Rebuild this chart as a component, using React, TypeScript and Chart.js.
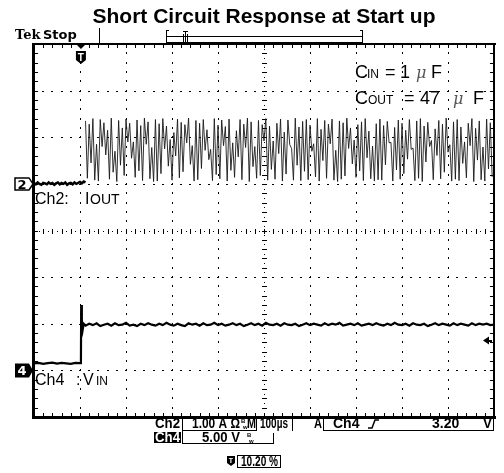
import React, { useEffect, useRef } from "react";
import { Chart, registerables } from "chart.js";

Chart.register(...registerables);

// ---------------- scope settings ----------------
const timePerDivUs = 100; // M 100µs
const horizontalDivs = 10;
const verticalDivs = 8;
const ch2AmpsPerDiv = 1.0;
const ch4VoltsPerDiv = 5.0;
const ch2GroundDiv = 1;
const ch4GroundDiv = -3;
const triggerPercent = 10.2;
const triggerLevelV = 3.2;

// ---------------- texts ----------------
const titleText = "Short Circuit Response at Start up";
const statusCh2 = "1.00 A \u03A9";
const statusTime = "100\u00B5s";
const statusTrigLevel = "3.20";
const statusCh4 = "5.00 V";
const statusTrigPos = "10.20 %";

// ---------------- Ch2 : IOUT (A) ----------------
// baseline before switching starts, one sample every 4 µs from 0 µs
const ch2BaselineStepUs = 4;
const ch2BaselineAmps = [
  0.02, -0.01, 0.03, 0.0, -0.02, 0.02, 0.01, -0.01, 0.03, 0.0,
  0.02, -0.02, 0.01, 0.03, -0.01, 0.02, 0.0, 0.03, -0.02, 0.01,
  0.02, -0.01, 0.03, 0.0, 0.02, 0.04, 0.01, 0.05, 0.03,
];
// hiccup bursts: one peak / valley pair every 8 µs from 112 µs
const ch2BurstStartUs = 112;
const ch2BurstPeriodUs = 8;
const ch2PeakAmps = [
  1.35, 1.28, 1.40, 0.85, 1.38, 1.31, 1.15, 1.41, 0.70, 1.36, 1.20, 1.39, 1.30, 0.90, 1.37, 1.25, 1.41, 1.33, 0.78, 1.38,
  1.29, 1.40, 1.24, 0.95, 1.10, 1.39, 1.32, 1.27, 1.41, 0.82, 1.36, 1.30, 1.38, 1.16, 0.74, 1.40, 1.26, 1.37, 1.23, 1.39,
  0.88, 1.14, 1.38, 1.28, 1.41, 1.33, 0.80, 1.36, 1.27, 1.40, 1.24, 0.92, 1.30, 1.39, 1.11, 1.37, 0.76, 1.41, 1.22, 1.34,
  1.38, 1.26, 0.86, 1.40, 1.17, 1.36, 1.28, 1.39, 0.72, 1.35, 1.31, 1.41, 1.20, 0.94, 1.27, 1.33, 1.40, 1.13, 0.81, 1.29,
  1.39, 1.25, 1.34, 0.89, 1.21, 1.37, 1.30, 1.15, 1.38, 0.77, 1.35, 1.40, 1.24, 1.32, 0.93, 1.18, 1.36, 1.28, 1.41, 0.84,
  1.33, 1.38, 1.22, 0.90, 1.30, 1.40, 1.19, 1.35, 0.79, 1.39, 1.31,
];
const ch2ValleyAmps = [
  0.12, 0.45, 0.08, 0.06, 0.80, 0.62, 0.10, 0.25, 0.05, 0.40, 0.18, 0.90, 0.55, 0.14, 0.28, 0.07, 0.85, 0.11, 0.05, 0.06,
  0.22, 0.75, 0.38, 0.08, 0.60, 0.13, 0.26, 0.88, 0.42, 0.06, 0.09, 0.33, 0.72, 0.52, 0.07, 0.20, 0.11, 0.82, 0.06, 0.29,
  0.14, 0.58, 0.09, 0.78, 0.05, 0.37, 0.12, 0.18, 0.92, 0.08, 0.31, 0.10, 0.65, 0.06, 0.21, 0.84, 0.08, 0.40, 0.07, 0.27,
  0.09, 0.70, 0.15, 0.06, 0.50, 0.12, 0.86, 0.08, 0.05, 0.10, 0.17, 0.76, 0.43, 0.14, 0.28, 0.07, 0.56, 0.11, 0.06, 0.09,
  0.08, 0.41, 0.88, 0.06, 0.30, 0.10, 0.22, 0.53, 0.74, 0.07, 0.12, 0.05, 0.47, 0.80, 0.09, 0.61, 0.11, 0.25, 0.68, 0.06,
  0.10, 0.07, 0.44, 0.13, 0.82, 0.05, 0.51, 0.09, 0.06, 0.32, 0.15,
];

// ---------------- Ch4 : VIN (V) ----------------
const ch4PreStepUs = 10; // samples from 0 µs
const ch4PreVolts = [0.75, 0.8, 0.7, 0.78, 0.82, 0.72, 0.8, 0.76, 0.7, 0.8, 0.78];
const ch4EdgeUs = [102, 102.6, 104, 106, 108];
const ch4EdgeVolts = [0.8, 7.0, 5.4, 4.4, 5.0];
const ch4SettledStartUs = 112;
const ch4SettledStepUs = 8;
const ch4SettledVolts = [
  4.8, 5.0, 4.85, 5.05, 4.75, 4.9, 5.0, 4.8, 5.05, 4.85, 4.9, 5.1, 4.8, 4.9, 4.75, 5.0, 4.85, 5.05, 4.9, 4.8,
  5.0, 4.85, 5.1, 4.9, 4.8, 5.0, 4.85, 4.75, 5.05, 4.9, 5.0, 4.8, 5.05, 4.85, 4.9, 5.1, 4.85, 5.0, 4.8, 4.9,
  5.05, 4.85, 5.0, 4.75, 4.9, 5.05, 4.85, 5.0, 4.8, 5.1, 4.9, 4.85, 5.0, 4.8, 5.05, 4.9, 4.85, 5.0, 4.75, 4.9,
  5.05, 4.85, 5.0, 4.9, 4.8, 5.05, 4.85, 5.0, 4.9, 5.1, 4.8, 4.9, 5.0, 4.85, 5.05, 4.8, 4.9, 5.0, 4.85, 5.05,
  4.9, 4.8, 5.0, 4.85, 5.1, 4.9, 4.85, 5.0, 4.8, 5.05, 4.9, 4.85, 5.0, 4.75, 4.9, 5.05, 4.85, 5.0, 4.9, 4.8,
  5.05, 4.85, 5.0, 4.9, 4.8, 5.05, 4.85, 5.0, 4.9, 5.0, 4.85, 4.9,
];

// ---------------- build datasets ----------------
const ch2ToDiv = (a: number) => ch2GroundDiv + a / ch2AmpsPerDiv;
const ch4ToDiv = (v: number) => ch4GroundDiv + v / ch4VoltsPerDiv;

const ch2BaselinePts = ch2BaselineAmps.map((a, i) => ({ x: i * ch2BaselineStepUs, y: ch2ToDiv(a) }));
const ch2BurstPts: { x: number; y: number }[] = [];
ch2PeakAmps.forEach((p, i) => {
  const t = ch2BurstStartUs + i * ch2BurstPeriodUs;
  ch2BurstPts.push({ x: t, y: ch2ToDiv(p) });
  ch2BurstPts.push({ x: t + ch2BurstPeriodUs / 2, y: ch2ToDiv(ch2ValleyAmps[i]) });
});
const ch4Pts = [
  ...ch4PreVolts.map((v, i) => ({ x: i * ch4PreStepUs, y: ch4ToDiv(v) })),
  ...ch4EdgeVolts.map((v, i) => ({ x: ch4EdgeUs[i], y: ch4ToDiv(v) })),
  ...ch4SettledVolts.map((v, i) => ({ x: ch4SettledStartUs + i * ch4SettledStepUs, y: ch4ToDiv(v) })),
];

function txt(
  ctx: CanvasRenderingContext2D,
  s: string,
  x: number,
  y: number,
  font: string,
  color = "#000",
  align: CanvasTextAlign = "left",
  maxW?: number
) {
  ctx.font = font;
  ctx.fillStyle = color;
  ctx.textAlign = align;
  ctx.textBaseline = "alphabetic";
  if (maxW) ctx.fillText(s, x, y, maxW);
  else ctx.fillText(s, x, y);
}

const gridPlugin = {
  id: "scopeGrid",
  beforeDatasetsDraw(chart: any) {
    const ctx: CanvasRenderingContext2D = chart.ctx;
    const { left, right, top, bottom } = chart.chartArea;
    const dx = (right - left) / horizontalDivs;
    const dy = (bottom - top) / verticalDivs;
    ctx.save();
    ctx.fillStyle = "#000";
    for (let k = 1; k < horizontalDivs; k++) {
      const x = Math.round(left + k * dx);
      if (k === horizontalDivs / 2) continue;
      for (let j = 1; j < verticalDivs * 5; j++) {
        ctx.fillRect(x, Math.round(top + (j * dy) / 5) - 1, 1, 2);
      }
    }
    for (let k = 1; k < verticalDivs; k++) {
      const y = Math.round(top + k * dy);
      if (k === verticalDivs / 2) continue;
      for (let i = 1; i < horizontalDivs * 5; i++) {
        ctx.fillRect(Math.round(left + (i * dx) / 5) - 1, y, 2, 1);
      }
    }
    const cx = Math.round(left + (horizontalDivs / 2) * dx);
    const cy = Math.round(top + (verticalDivs / 2) * dy);
    for (let j = 1; j < verticalDivs * 5; j++) {
      const y = Math.round(top + (j * dy) / 5);
      ctx.fillRect(cx - 2, y, 5, 1);
      ctx.fillRect(cx, Math.round(top + ((j - 0.5) * dy) / 5), 1, 1);
    }
    for (let i = 1; i < horizontalDivs * 5; i++) {
      const x = Math.round(left + (i * dx) / 5);
      ctx.fillRect(x, cy - 2, 1, 5);
      ctx.fillRect(Math.round(left + ((i - 0.5) * dx) / 5), cy, 1, 1);
    }
    for (let i = 1; i < horizontalDivs * 5; i++) {
      const x = Math.round(left + (i * dx) / 5);
      ctx.fillRect(x, top + 1, 1, 3);
      ctx.fillRect(x, bottom - 4, 1, 3);
    }
    for (let j = 1; j < verticalDivs * 5; j++) {
      const y = Math.round(top + (j * dy) / 5);
      ctx.fillRect(left + 1, y, 3, 1);
      ctx.fillRect(right - 4, y, 3, 1);
    }
    ctx.restore();
  },
};

const overlayPlugin = {
  id: "scopeOverlay",
  afterDraw(chart: any) {
    const ctx: CanvasRenderingContext2D = chart.ctx;
    const { left, right, top, bottom } = chart.chartArea;
    const yS = chart.scales.y;
    ctx.save();
    ctx.fillStyle = "#000";
    ctx.strokeStyle = "#000";
    // frame
    ctx.fillRect(left - 2, top - 1, right - left + 4, 2);
    ctx.fillRect(left - 2, bottom - 1, right - left + 4, 3);
    ctx.fillRect(left - 2, top - 1, 3, bottom - top + 3);
    ctx.fillRect(right - 1, top - 1, 2, bottom - top + 3);

    // title
    txt(ctx, titleText, (left + right) / 2, 23, 'bold 21px "Liberation Sans", Arial, sans-serif', "#000", "center");

    // Tek Stop
    txt(ctx, "Tek", 15, 39, 'bold 13px "DejaVu Serif", serif');
    txt(ctx, "Stop", 43, 39, 'bold 13px "DejaVu Sans", sans-serif');
    ctx.fillRect(99, 28, 1, top - 28);

    // record bar
    ctx.fillRect(166, 30, 1, top - 30);
    ctx.fillRect(166, 30, 3, 1);
    ctx.fillRect(166, top - 2, 3, 1);
    ctx.fillRect(362, 30, 1, top - 30);
    ctx.fillRect(360, 30, 3, 1);
    ctx.fillRect(166, 36, 197, 1);
    ctx.fillRect(166, top - 2, 197, 1);
    ctx.fillRect(183, 31, 5, 1);
    ctx.fillRect(185, 31, 1, 12);
    ctx.fillRect(183, 34, 1, 9);
    ctx.fillRect(187, 34, 1, 9);

    // trigger position marker
    const tx = left + (triggerPercent / 100) * (right - left);
    ctx.beginPath();
    ctx.moveTo(tx - 4, top + 1);
    ctx.lineTo(tx + 4, top + 1);
    ctx.lineTo(tx, top + 5);
    ctx.closePath();
    ctx.fill();
    ctx.beginPath();
    ctx.moveTo(tx - 5, top + 7);
    ctx.lineTo(tx + 5, top + 7);
    ctx.lineTo(tx + 5, top + 16);
    ctx.lineTo(tx, top + 20);
    ctx.lineTo(tx - 5, top + 16);
    ctx.closePath();
    ctx.fill();
    txt(ctx, "T", tx, top + 17, "bold 10px Arial, sans-serif", "#fff", "center");

    // channel ground markers
    const g2 = yS.getPixelForValue(ch2GroundDiv);
    ctx.beginPath();
    ctx.moveTo(15, g2 - 6);
    ctx.lineTo(29, g2 - 6);
    ctx.lineTo(33, g2);
    ctx.lineTo(29, g2 + 6);
    ctx.lineTo(15, g2 + 6);
    ctx.closePath();
    ctx.fillStyle = "#fff";
    ctx.fill();
    ctx.lineWidth = 1.5;
    ctx.stroke();
    txt(ctx, "2", 22, g2 + 5, 'bold 13px "DejaVu Sans", sans-serif', "#000", "center");

    const g4 = yS.getPixelForValue(ch4GroundDiv);
    ctx.beginPath();
    ctx.moveTo(15, g4 - 7);
    ctx.lineTo(29, g4 - 7);
    ctx.lineTo(33, g4);
    ctx.lineTo(29, g4 + 7);
    ctx.lineTo(15, g4 + 7);
    ctx.closePath();
    ctx.fillStyle = "#000";
    ctx.fill();
    txt(ctx, "4", 22, g4 + 5, 'bold 13px "DejaVu Sans", sans-serif', "#fff", "center");

    // trigger level arrow
    const tl = yS.getPixelForValue(ch4ToDiv(triggerLevelV));
    ctx.fillStyle = "#000";
    ctx.beginPath();
    ctx.moveTo(483, tl);
    ctx.lineTo(489, tl - 4);
    ctx.lineTo(489, tl + 4);
    ctx.closePath();
    ctx.fill();
    ctx.fillRect(488, Math.round(tl) - 1, 4, 2);

    // channel labels
    const f16 = '16px "Liberation Sans", Arial, sans-serif';
    const f12 = '12px "Liberation Sans", Arial, sans-serif';
    txt(ctx, "Ch2:", 35, 204, f16);
    txt(ctx, "I", 85, 204, f16);
    txt(ctx, "OUT", 90, 204, '14px "Liberation Sans", Arial, sans-serif');
    txt(ctx, "Ch4", 35, 385, f16);
    txt(ctx, ":", 76, 385, f16);
    txt(ctx, "V", 83, 385, f16);
    txt(ctx, "IN", 96, 385, f12);

    // capacitor notes
    const f18 = '18px "Liberation Sans", Arial, sans-serif';
    const mu = 'italic 16px "DejaVu Serif", serif';
    txt(ctx, "C", 355, 78, f18);
    txt(ctx, "IN", 367, 78, f12);
    txt(ctx, "=", 385, 78, f18);
    txt(ctx, "1", 400, 78, f18);
    txt(ctx, "\u03BC", 416, 78, mu, "#555");
    txt(ctx, "F", 431, 78, f18);
    txt(ctx, "C", 355, 104, f18);
    txt(ctx, "OUT", 368, 104, f12);
    txt(ctx, "=", 404, 104, f18);
    txt(ctx, "47", 420, 104, f18);
    txt(ctx, "\u03BC", 453, 104, mu, "#555");
    txt(ctx, "F", 473, 104, f18);

    // status bar
    const sb = 'bold 14px "Liberation Sans", Arial, sans-serif';
    const r1 = 428;
    txt(ctx, "Ch2", 155, r1, sb, "#000", "left", 25);
    ctx.fillStyle = "#000";
    ctx.fillRect(182, 416, 1, 15);
    ctx.fillRect(182, 430, 75, 1);
    txt(ctx, statusCh2, 192, r1, sb, "#000", "left", 48);
    txt(ctx, "B", 241, r1 - 5, "bold 6px Arial", "#000", "left");
    txt(ctx, "w", 243, r1 + 1, "bold 6px Arial", "#000", "left");
    txt(ctx, "M", 247, r1, sb, "#000", "left", 9);
    ctx.fillRect(256, 416, 1, 15);
    txt(ctx, statusTime, 260, r1, sb, "#000", "left", 28);
    ctx.fillRect(292, 416, 1, 15);
    txt(ctx, "A", 314, r1, sb, "#000", "left", 8);
    ctx.fillRect(323, 418, 1, 13);
    ctx.fillRect(323, 430, 171, 1);
    ctx.fillRect(493, 418, 1, 13);
    txt(ctx, "Ch4", 333, r1, sb, "#000", "left", 27);
    ctx.lineWidth = 1.5;
    ctx.beginPath();
    ctx.moveTo(368, 428);
    ctx.lineTo(372, 428);
    ctx.lineTo(375, 420);
    ctx.lineTo(379, 420);
    ctx.stroke();
    txt(ctx, statusTrigLevel, 432, r1, sb, "#000", "left", 34);
    txt(ctx, "V", 483, r1, sb, "#000", "left", 9);

    const r2 = 442;
    ctx.fillStyle = "#000";
    ctx.fillRect(154, 432, 27, 11);
    txt(ctx, "Ch4", 155, r2, sb, "#fff", "left", 25);
    ctx.fillStyle = "#000";
    ctx.fillRect(182, 431, 1, 13);
    ctx.fillRect(182, 443, 92, 1);
    ctx.fillRect(273, 433, 1, 11);
    txt(ctx, statusCh4, 202, r2, sb, "#000", "left", 38);
    txt(ctx, "B", 247, r2 - 5, "bold 6px Arial", "#000", "left");
    txt(ctx, "w", 249, r2 + 1, "bold 6px Arial", "#000", "left");

    // trigger position readout
    ctx.fillStyle = "#000";
    ctx.beginPath();
    ctx.moveTo(227, 456);
    ctx.lineTo(235, 456);
    ctx.lineTo(235, 463);
    ctx.lineTo(231, 466);
    ctx.lineTo(227, 463);
    ctx.closePath();
    ctx.fill();
    txt(ctx, "T", 231, 463, "bold 7px Arial", "#fff", "center");
    ctx.strokeStyle = "#000";
    ctx.lineWidth = 1;
    ctx.strokeRect(237.5, 455.5, 43, 12);
    txt(ctx, statusTrigPos, 241, 466, sb, "#000", "left", 37);

    ctx.restore();
  },
};

export default function App() {
  const canvasRef = useRef<HTMLCanvasElement | null>(null);

  useEffect(() => {
    if (!canvasRef.current) return;
    const chart = new Chart(canvasRef.current, {
      type: "line",
      data: {
        datasets: [
          {
            label: "Ch2 baseline",
            data: ch2BaselinePts,
            borderColor: "#000",
            borderWidth: 2.5,
            pointRadius: 0,
            tension: 0,
            fill: false,
          },
          {
            label: "Ch2: IOUT",
            data: ch2BurstPts,
            borderColor: "#1a1a1a",
            borderWidth: 0.9,
            pointRadius: 0,
            tension: 0,
            fill: false,
          },
          {
            label: "Ch4: VIN",
            data: ch4Pts,
            borderColor: "#000",
            borderWidth: 2.2,
            pointRadius: 0,
            tension: 0,
            fill: false,
          },
        ],
      },
      options: {
        animation: false,
        responsive: false,
        events: [],
        layout: { padding: { left: 34, top: 44, right: 10, bottom: 56 } },
        scales: {
          x: { type: "linear", min: 0, max: timePerDivUs * horizontalDivs, display: false },
          y: { type: "linear", min: -verticalDivs / 2, max: verticalDivs / 2, display: false },
        },
        plugins: {
          legend: { display: false },
          tooltip: { enabled: false },
          title: { display: false },
        },
      },
      plugins: [gridPlugin, overlayPlugin],
    });
    return () => chart.destroy();
  }, []);

  return (
    <div style={{ position: "absolute", left: 0, top: 0, width: 504, height: 473, background: "#fff" }}>
      <canvas ref={canvasRef} width={504} height={473} style={{ display: "block" }} />
    </div>
  );
}
